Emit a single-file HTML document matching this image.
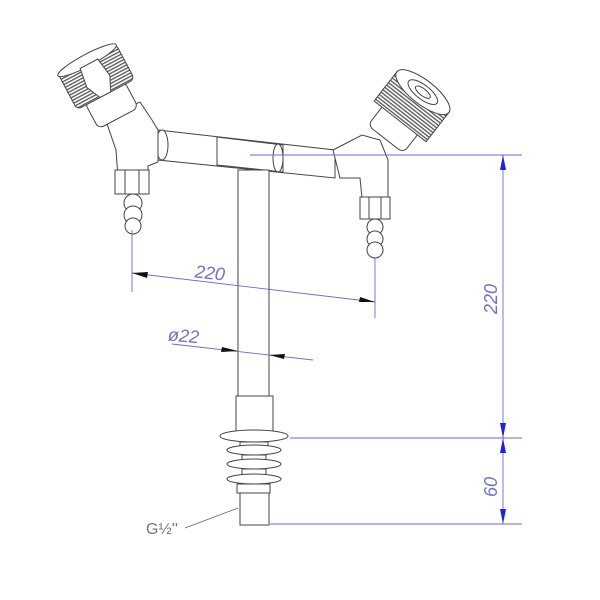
<!DOCTYPE html>
<html><head><style>
html,body{margin:0;padding:0;background:#fff;}
svg{display:block;}
text{font-family:"Liberation Sans",sans-serif;fill:#7070c8;font-style:italic;}
</style></head><body>
<svg width="600" height="600" viewBox="0 0 600 600" xmlns="http://www.w3.org/2000/svg">
<defs>
<pattern id="knurl" width="3" height="3" patternUnits="userSpaceOnUse">
<rect width="3" height="3" fill="#fff"/><rect width="3" height="1.3" fill="#555"/>
</pattern>
</defs>
<g fill="#fff" stroke="#444" stroke-width="1">
<!-- horizontal bar -->
<path d="M158 130 L335 150 L335 178 L158 160 Z"/>
<path d="M217 137 L283 145 L283 172 L217 165 Z"/>
<ellipse cx="162" cy="145" rx="6" ry="15"/>
<ellipse cx="278" cy="158" rx="5" ry="14"/>
<!-- vertical pipe -->
<rect x="238" y="170" width="31" height="226"/>
<rect x="236" y="396" width="37" height="38"/>
<ellipse cx="254" cy="436" rx="34" ry="6"/>
<rect x="240" y="442" width="28" height="8"/>
<ellipse cx="254" cy="450" rx="27" ry="5"/>
<rect x="242" y="455" width="24" height="8"/>
<ellipse cx="254" cy="464" rx="27" ry="5"/>
<rect x="242" y="469" width="24" height="8"/>
<ellipse cx="254" cy="479" rx="27" ry="5"/>
<rect x="237" y="484" width="33" height="9"/>
<rect x="240" y="493" width="29" height="32"/>

<!-- left fitting -->
<path d="M105 118 L140 102 L152 120 L158 130 L158 162 L148 166 L148 178 L118 178 L116 150 Z"/>
<rect x="115" y="170" width="34" height="24"/>
<line x1="125" y1="170" x2="125" y2="194"/><line x1="139" y1="170" x2="139" y2="194"/>
<circle cx="133" cy="203" r="9"/><circle cx="133" cy="215" r="9"/><circle cx="133" cy="226" r="8"/>
<g transform="rotate(-28 103 88)">
<rect x="80" y="92" width="45" height="30" rx="6"/>
<rect x="70" y="55" width="65" height="40" rx="5" fill="url(#knurl)"/>
<ellipse cx="102" cy="56" rx="33" ry="6"/>
<path d="M92 60 L112 60 L115 80 L108 95 L96 95 L89 80 Z"/>
</g>

<!-- right fitting -->
<path d="M333 150 L362 135 L380 140 L388 160 L388 198 L362 198 L360 178 L340 178 Z"/>
<rect x="360" y="197" width="30" height="22"/>
<line x1="369" y1="197" x2="369" y2="219"/><line x1="381" y1="197" x2="381" y2="219"/>
<circle cx="375" cy="227" r="8"/><circle cx="375" cy="239" r="8"/><circle cx="375" cy="250" r="8"/>
<g transform="rotate(38 405 115)">
<rect x="382" y="118" width="45" height="28" rx="6"/>
<rect x="372" y="85" width="66" height="38" fill="url(#knurl)"/>
<ellipse cx="405" cy="86" rx="33" ry="12"/>
<ellipse cx="405" cy="86" rx="18" ry="7"/>
<ellipse cx="405" cy="86" rx="9" ry="3.5"/>
</g>
</g>

<!-- dimensions -->
<g stroke="#6a6ad0" stroke-width="0.9" fill="none">
<line x1="250" y1="155" x2="522" y2="155"/>
<line x1="290" y1="438" x2="522" y2="438"/>
<line x1="270" y1="524" x2="522" y2="524"/>
<line x1="503" y1="155" x2="503" y2="524"/>
<line x1="132" y1="230" x2="132" y2="292"/>
<line x1="375" y1="258" x2="375" y2="318"/>
<line x1="132" y1="273" x2="375" y2="302"/>
<line x1="172" y1="344" x2="313" y2="360"/>
</g>
<line x1="238" y1="508" x2="185" y2="528" stroke="#666" stroke-width="0.8"/>
<g fill="#2222dd">
<path d="M503 155 L500 170 L506 170 Z"/>
<path d="M503 438 L500 423 L506 423 Z"/>
<path d="M503 438 L500 453 L506 453 Z"/>
<path d="M503 524 L500 509 L506 509 Z"/>
</g>
<g fill="#111">
<path d="M132 273 L148 272 L147 278 Z"/>
<path d="M375 302 L359 302 L360 297 Z"/>
<path d="M238 351 L222 347 L221 352 Z"/>
<path d="M269 355 L285 354 L284 359 Z"/>
</g>
<text x="195" y="279" font-size="18" transform="rotate(6 210 272)">220</text>
<text x="497" y="314" font-size="18" transform="rotate(-90 497 314)">220</text>
<text x="497" y="497" font-size="18" transform="rotate(-90 497 497)">60</text>
<text x="168" y="342" font-size="18" transform="rotate(5 185 336)">ø22</text>
<text x="146" y="534" font-size="16" style="fill:#777;font-style:normal">G½''</text>
</svg>
</body></html>
